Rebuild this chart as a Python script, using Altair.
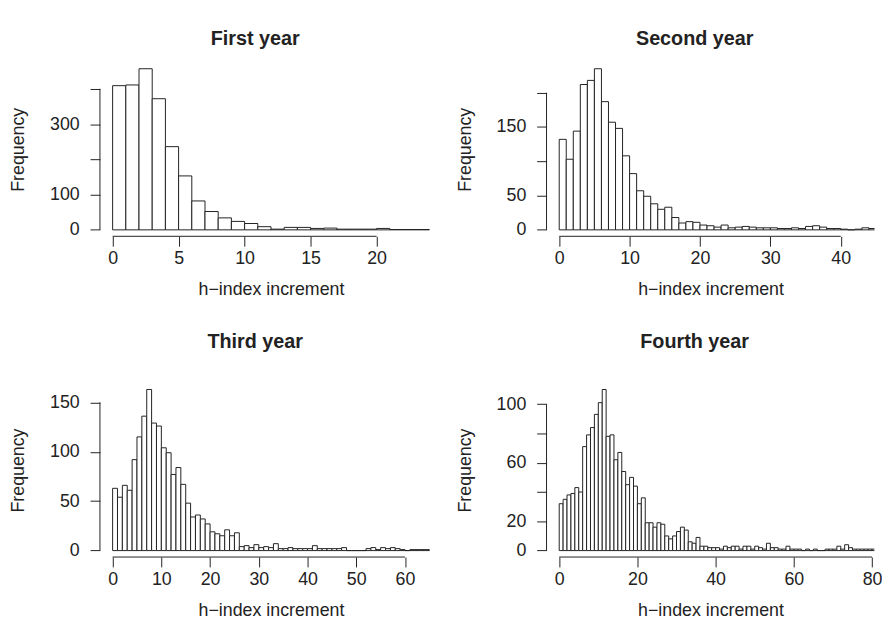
import altair as alt
import pandas as pd

panel_titles = ["First year", "Second year", "Third year", "Fourth year"]
x_title = "h\u2212index increment"
y_title = "Frequency"

# histogram counts, bins of width 1 starting at 0
counts_y1 = [409, 411, 457, 372, 236, 153, 82, 52, 34, 24, 18, 9, 2, 7, 7, 4, 5, 2, 2, 2,
             4, 1, 1, 1]
counts_y2 = [132, 103, 144, 212, 218, 235, 187, 157, 148, 108, 82, 57, 49, 38, 30, 33, 18,
             10, 12, 11, 7, 6, 4, 7, 3, 4, 5, 4, 3, 3, 3, 2, 2, 3, 2, 5, 6, 4, 2, 2, 1, 0, 1,
             3, 2]
counts_y3 = [63, 54, 66, 61, 92, 115, 136, 163, 129, 126, 104, 99, 77, 84, 67, 48, 34, 36,
             32, 27, 19, 17, 15, 21, 15, 18, 4, 5, 3, 6, 3, 4, 3, 7, 2, 2, 3, 2, 2, 2, 2, 5,
             2, 2, 2, 2, 2, 3, 0, 0, 0, 0, 2, 3, 1, 3, 2, 3, 2, 1, 0, 1, 1, 1, 1]
counts_y4 = [32, 35, 38, 39, 43, 40, 71, 79, 84, 93, 101, 110, 78, 79, 62, 67, 54, 45, 50,
             44, 32, 36, 19, 19, 16, 19, 18, 10, 8, 10, 13, 16, 14, 6, 5, 9, 3, 3, 2, 2, 2, 1,
             3, 2, 3, 3, 1, 3, 3, 1, 3, 2, 1, 5, 2, 2, 1, 1, 3, 1, 1, 1, 0, 1, 0, 1, 0, 0, 1,
             1, 1, 3, 1, 4, 2, 1, 1, 1, 1, 1, 1]

x_ticks_y1 = [0, 5, 10, 15, 20]
x_ticks_y2 = [0, 10, 20, 30, 40]
x_ticks_y3 = [0, 10, 20, 30, 40, 50, 60]
x_ticks_y4 = [0, 20, 40, 60, 80]

y_ticks_y1 = [0, 100, 200, 300, 400]
y_ticks_y2 = [0, 50, 100, 150, 200]
y_ticks_y3 = [0, 50, 100, 150]
y_ticks_y4 = [0, 20, 40, 60, 80, 100]

# tick labels that R actually printed (others dropped for overlap)
y_labels_y1 = [0, 100, 300]
y_labels_y2 = [0, 50, 150]
y_labels_y3 = [0, 50, 100, 150]
y_labels_y4 = [0, 20, 60, 100]

W, H = 346, 176
INK = "#222222"
FONT = "Liberation Sans"


def panel(title, counts, x_ticks, y_ticks, y_labels, title_offset, x_hi=None):
    n = len(counts)
    top = max(counts)
    lo_edge, hi_edge = -0.04 * n, 1.04 * n
    px_per_unit = W / (hi_edge - lo_edge)
    if x_hi is None:
        x_hi = hi_edge
    width = px_per_unit * (x_hi - lo_edge)
    bars = pd.DataFrame({
        "lo": list(range(n)),
        "hi": list(range(1, n + 1)),
        "count": counts,
        "base": [0] * n,
    })
    xs = alt.Scale(domain=[lo_edge, x_hi], nice=False, zero=False)
    ys = alt.Scale(domain=[-0.04 * top, 1.04 * top], nice=False, zero=False)
    shown = ",".join(str(v) for v in y_labels)
    xa = alt.Axis(values=x_ticks, title=x_title, domain=False, grid=False, tickSize=10,
                  tickColor=INK, tickWidth=1, labelPadding=4, titlePadding=13, format="d",
                  labelFlush=False, labelOverlap=False)
    ya = alt.Axis(values=y_ticks, title=y_title, domain=False, grid=False, tickSize=10,
                  tickColor=INK, tickWidth=1, labelPadding=11, titlePadding=22, format="d",
                  labelOverlap=False, labelFlush=False,
                  labelExpr=f"indexof([{shown}], datum.value) >= 0 ? datum.label : ''")
    rect = alt.Chart(bars).mark_rect(fill="white", stroke=INK, strokeWidth=1, clip=True).encode(
        x=alt.X("lo:Q", scale=xs, axis=xa),
        x2="hi:Q",
        y=alt.Y("count:Q", scale=ys, axis=ya),
        y2="base:Q",
    )
    xline = alt.Chart(pd.DataFrame({"lo": [x_ticks[0]], "hi": [x_ticks[-1]]})).mark_rule(
        color=INK, strokeWidth=1).encode(
        x=alt.X("lo:Q", scale=xs, axis=xa), x2="hi:Q", y=alt.value(H))
    yline = alt.Chart(pd.DataFrame({"count": [y_ticks[0]], "base": [y_ticks[-1]]})).mark_rule(
        color=INK, strokeWidth=1).encode(
        y=alt.Y("count:Q", scale=ys, axis=ya), y2="base:Q", x=alt.value(0))
    return alt.layer(rect, xline, yline).properties(
        width=width, height=H,
        title=alt.TitleParams(title, fontSize=20, fontWeight="bold", font=FONT, color=INK,
                              anchor="middle", offset=title_offset, dx=-16),
    )


p1 = panel(panel_titles[0], counts_y1, x_ticks_y1, y_ticks_y1, y_labels_y1, 13.6)
p2 = panel(panel_titles[1], counts_y2, x_ticks_y2, y_ticks_y2, y_labels_y2, 13.6, x_hi=44.8)
p3 = panel(panel_titles[2], counts_y3, x_ticks_y3, y_ticks_y3, y_labels_y3, 31.4)
p4 = panel(panel_titles[3], counts_y4, x_ticks_y4, y_ticks_y4, y_labels_y4, 31.4, x_hi=80.6)

chart = alt.vconcat(
    alt.hconcat(p1, p2, spacing=13.7),
    alt.hconcat(p3, p4, spacing=13.7),
    spacing=33.4,
).properties(
    padding={"left": 1, "top": 17.4, "right": 0, "bottom": 0},
    background="white",
).configure_view(stroke=None).configure_axis(
    labelFont=FONT, titleFont=FONT, labelFontSize=18, titleFontSize=18,
    labelColor=INK, titleColor=INK, titleFontWeight="normal",
)

chart.save("out.html", embed_options={"renderer": "svg", "actions": False})
